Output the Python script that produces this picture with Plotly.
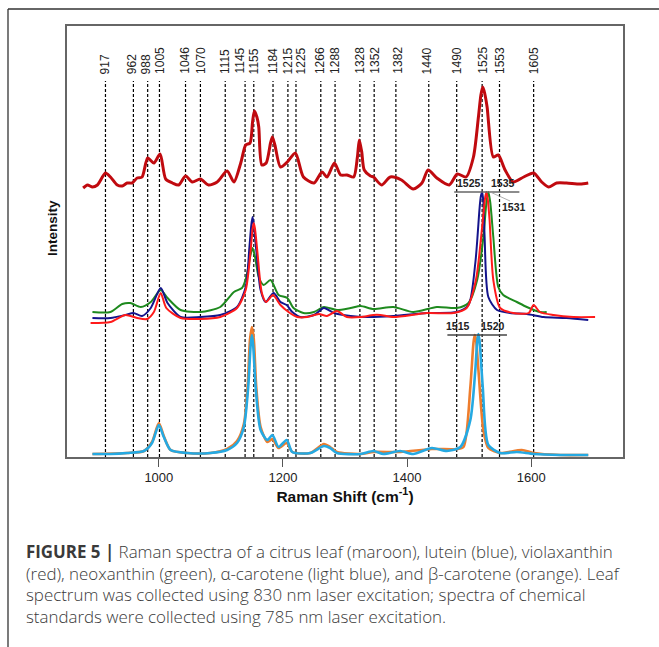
import plotly.graph_objects as go

# ---------------- data ----------------
# Raman shift (cm-1) and intensity (arbitrary units, spectra offset vertically)
leaf_x = [878, 885, 893, 901, 914, 922, 933, 941, 949, 957, 965, 973, 982, 992, 1002, 1011, 1022, 1032,
          1043, 1054, 1067, 1080, 1094, 1110, 1121, 1132, 1140, 1147, 1151, 1154, 1158, 1161, 1166, 1173,
          1180, 1183, 1187, 1196, 1207, 1220, 1233, 1250, 1263, 1271, 1283, 1293, 1303, 1314, 1320, 1323,
          1327, 1331, 1341, 1346, 1359, 1373, 1391, 1410, 1424, 1434, 1448, 1468, 1481, 1495, 1507, 1515,
          1519, 1522, 1525, 1529, 1539, 1547, 1558, 1571, 1588, 1604, 1617, 1628, 1641, 1657, 1679, 1692]
leaf_y = [269, 272, 270, 272, 284, 280, 272, 271, 274, 274, 279, 280, 299, 294, 303, 278, 274, 272,
          281, 275, 278, 272, 275, 286, 275, 294, 312, 314, 335, 346, 340, 330, 292, 294,
          314, 320, 312, 290, 295, 304, 280, 274, 285, 280, 294, 282, 282, 280, 300, 317,
          305, 287, 281, 280, 272, 280, 277, 268, 274, 287, 279, 272, 283, 280, 300, 340,
          362, 370, 364, 350, 300, 302, 287, 275, 280, 284, 275, 270, 274, 274, 273, 274]

green_x = [893, 922, 941, 954, 971, 987, 1003, 1014, 1035, 1067, 1099, 1121, 1134, 1141, 1147, 1151,
           1155, 1161, 1169, 1180, 1193, 1207, 1217, 1233, 1250, 1266, 1287, 1309, 1325, 1346, 1378,
           1410, 1448, 1480, 1499, 1513, 1523, 1528, 1531, 1534, 1539, 1547, 1555, 1577, 1593, 1614, 1625]
green_y = [145, 145, 153, 154, 150, 155, 167, 159, 147, 145, 150, 165, 169, 180, 200, 209,
           200, 180, 172, 177, 162, 159, 149, 144, 145, 150, 147, 149, 151, 148, 150,
           145, 150, 149, 154, 177, 220, 255, 265, 255, 220, 170, 162, 155, 150, 145, 145]

lutein_x = [893, 922, 946, 959, 973, 987, 1003, 1014, 1035, 1067, 1099, 1126, 1140, 1146, 1149, 1151,
            1153, 1157, 1164, 1172, 1185, 1196, 1206, 1215, 1228, 1250, 1266, 1282, 1309, 1335, 1378,
            1432, 1480, 1499, 1510, 1517, 1519, 1521, 1523, 1525, 1531, 1545, 1566, 1593, 1620, 1657, 1692]
lutein_y = [139, 139, 142, 144, 141, 149, 169, 154, 140, 140, 142, 150, 170, 210, 232, 240,
            232, 207, 167, 155, 164, 155, 152, 145, 140, 142, 149, 144, 141, 140, 141,
            144, 145, 152, 194, 250, 261, 265, 255, 220, 160, 147, 144, 143, 140, 139, 137]

viola_x = [890, 922, 946, 965, 981, 992, 1003, 1012, 1035, 1067, 1099, 1126, 1140, 1148, 1151, 1153,
           1155, 1159, 1166, 1173, 1184, 1196, 1209, 1223, 1239, 1258, 1271, 1287, 1303, 1325, 1346,
           1357, 1378, 1432, 1475, 1496, 1511, 1521, 1526, 1528, 1530, 1533, 1539, 1550, 1571, 1596,
           1604, 1614, 1636, 1668, 1703]
viola_y = [134, 135, 142, 139, 138, 145, 164, 149, 139, 138, 140, 149, 167, 207, 228, 234,
           228, 204, 164, 155, 162, 152, 145, 140, 140, 143, 141, 146, 140, 140, 142,
           142, 140, 144, 144, 149, 177, 230, 260, 265, 258, 237, 177, 149, 144, 144,
           152, 145, 142, 140, 140]

bcar_x = [893, 949, 976, 989, 1000, 1008, 1019, 1046, 1083, 1110, 1126, 1137, 1143, 1147, 1150, 1153,
          1157, 1164, 1175, 1183, 1193, 1206, 1215, 1244, 1266, 1276, 1287, 1325, 1346, 1389, 1440,
          1480, 1491, 1502, 1507, 1509, 1511, 1515, 1523, 1531, 1550, 1585, 1604, 1647, 1692]
bcar_y = [3, 4, 6, 15, 34, 21, 7, 4, 4, 8, 16, 33, 70, 118, 130, 118,
          70, 30, 15, 18, 9, 14, 5, 4, 13, 10, 5, 3, 5, 5, 8,
          8, 10, 70, 114, 122, 118, 87, 27, 9, 4, 7, 4, 2, 2]

acar_x = [893, 922, 949, 976, 989, 1000, 1008, 1019, 1046, 1083, 1110, 1126, 1137, 1144, 1148, 1150,
          1152, 1156, 1164, 1175, 1183, 1193, 1206, 1215, 1244, 1266, 1276, 1287, 1325, 1346, 1362,
          1389, 1410, 1440, 1464, 1486, 1502, 1510, 1513, 1515, 1517, 1522, 1531, 1550, 1577, 1604,
          1647, 1692]
acar_y = [3, 3, 4, 6, 14, 32, 20, 7, 4, 4, 7, 14, 30, 70, 112, 122,
          112, 70, 27, 17, 22, 10, 17, 5, 4, 11, 9, 4, 3, 6, 3,
          6, 3, 9, 6, 10, 37, 87, 115, 123, 115, 70, 12, 4, 5, 3,
          2, 2]

# marker bands: labels, the positions of their dashed lines and of their labels as drawn in the figure
band_labels = ["917", "962", "988", "1005", "1046", "1070", "1115", "1145", "1155", "1184", "1215",
               "1225", "1266", "1288", "1328", "1352", "1382", "1440", "1490", "1525", "1553", "1605"]
band_lines = [914, 959, 982, 1001, 1043, 1067, 1107, 1139, 1153, 1184, 1208,
              1221, 1261, 1284, 1324, 1347, 1382, 1435, 1480, 1521, 1549, 1604]
band_label_at = [914, 957, 980, 1001, 1041, 1067, 1106, 1130, 1154, 1184, 1208,
                 1229, 1259, 1283, 1323, 1347, 1384, 1432, 1480, 1521, 1549, 1604]

x_ticks = [1000, 1200, 1400, 1600]

caption_lines = [
    "<b>FIGURE 5 |</b> Raman spectra of a citrus leaf (maroon), lutein (blue), violaxanthin",
    "(red), neoxanthin (green), α-carotene (light blue), and β-carotene (orange). Leaf",
    "spectrum was collected using 830 nm laser excitation; spectra of chemical",
    "standards were collected using 785 nm laser excitation.",
]

# ---------------- layout geometry ----------------
W, H = 659, 647
L, R, T, B = 67, 623, 26, 457
XR = [852, 1748]
YR = [0, 431]


def pxx(px):
    return (px - L) / (R - L)


def pxy(py):
    return (B - py) / (B - T)


fig = go.Figure()

series = [
    (leaf_x, leaf_y, "#C00A0F", 3.0, "citrus leaf"),
    (green_x, green_y, "#1E8A1E", 2.0, "neoxanthin"),
    (lutein_x, lutein_y, "#14148C", 2.0, "lutein"),
    (viola_x, viola_y, "#FF1A1A", 2.0, "violaxanthin"),
    (bcar_x, bcar_y, "#EE7D2D", 2.6, "β-carotene"),
    (acar_x, acar_y, "#25A9E2", 2.6, "α-carotene"),
]
for xs, ys, col, lw, name in series:
    fig.add_trace(go.Scatter(x=xs, y=ys, mode="lines", name=name,
                             line=dict(color=col, width=lw, shape="spline", smoothing=0.7),
                             showlegend=False, hoverinfo="skip"))

shapes = []
annotations = []
for v, lab, lx in zip(band_lines, band_labels, band_label_at):
    shapes.append(dict(type="line", xref="x", yref="y", x0=v, x1=v, y0=0, y1=376,
                       line=dict(color="black", width=1.2, dash="3px,2px"), layer="below"))
    annotations.append(dict(x=lx, y=381, xref="x", yref="y", text=lab, textangle=-90,
                            showarrow=False, xanchor="center", yanchor="bottom",
                            font=dict(size=12, color="#222", family="Liberation Sans")))

# peak-position markers
shapes.append(dict(type="line", xref="x", yref="y", x0=1476, x1=1581, y0=265, y1=265,
                   line=dict(color="#666", width=1.6)))
shapes.append(dict(type="line", xref="x", yref="y", x0=1534, x1=1566, y0=265, y1=256,
                   line=dict(color="#999", width=0.8)))
shapes.append(dict(type="line", xref="x", yref="y", x0=1465, x1=1561, y0=122, y1=122,
                   line=dict(color="#444", width=1.6)))
for txt, xv, yv, ya in [("1525", 1500, 266, "bottom"), ("1535", 1555, 266, "bottom"),
                        ("1531", 1572, 250, "middle"), ("1515", 1482, 123, "bottom"),
                        ("1520", 1539, 123, "bottom")]:
    annotations.append(dict(x=xv, y=yv, xref="x", yref="y", text=f"<b>{txt}</b>", showarrow=False,
                            xanchor="center", yanchor=ya,
                            font=dict(size=10.5, color="#222", family="Liberation Sans")))

# y-axis title
annotations.append(dict(x=pxx(52), y=pxy(228), xref="paper", yref="paper", text="<b>Intensity</b>",
                        textangle=-90, showarrow=False, xanchor="center", yanchor="middle",
                        font=dict(size=13.5, color="#111", family="Liberation Sans")))

# caption
for i, line in enumerate(caption_lines):
    annotations.append(dict(x=pxx(24), y=pxy(551.5 + i * 21.7), xref="paper", yref="paper",
                            text=line, showarrow=False, xanchor="left", yanchor="middle",
                            align="left",
                            font=dict(size=16.9, color="#3a3a3a", family="Open Sans", weight=300)))

# outer frame (top and left)
shapes.append(dict(type="line", xref="paper", yref="paper", x0=pxx(8), x1=pxx(660), y0=pxy(9), y1=pxy(9),
                   line=dict(color="#333", width=1.3)))
shapes.append(dict(type="line", xref="paper", yref="paper", x0=pxx(8), x1=pxx(8), y0=pxy(9), y1=pxy(648),
                   line=dict(color="#333", width=1.3)))

fig.update_layout(
    width=W, height=H,
    margin=dict(l=L, r=W - R, t=T, b=H - B, pad=0),
    paper_bgcolor="white", plot_bgcolor="white",
    shapes=shapes, annotations=annotations,
    font=dict(family="Liberation Sans", color="#222"),
    xaxis=dict(range=XR, tickvals=x_ticks, ticktext=[str(t) for t in x_ticks], ticks="outside",
               ticklen=8, tickwidth=1.2, tickcolor="#555", showline=True, linecolor="#666",
               linewidth=1.5, mirror=True, showgrid=False, zeroline=False,
               tickfont=dict(size=13, color="#222"),
               title=dict(text="<b>Raman Shift (cm<sup>-1</sup>)</b>", standoff=1,
                          font=dict(size=15.5, color="#111"))),
    yaxis=dict(range=YR, showticklabels=False, ticks="", showline=True, linecolor="#666",
               linewidth=1.5, mirror=True, showgrid=False, zeroline=False),
)

fig.write_html("out.html")
